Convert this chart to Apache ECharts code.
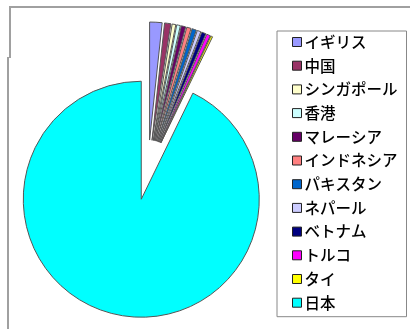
<!DOCTYPE html>
<html><head><meta charset="utf-8">
<script src="https://cdn.jsdelivr.net/npm/echarts@6/dist/echarts.min.js"></script>
<style>html,body{margin:0;padding:0;background:#fff}#c{width:410px;height:329px}</style>
</head><body><div id="c"></div>
<script>
const categories = ['イギリス','中国','シンガポール','香港','マレーシア','インドネシア','パキスタン','ネパール','ベトナム','トルコ','タイ','日本'];
const values = [1.7, 0.86, 0.5, 0.5, 0.6, 0.6, 0.6, 0.5, 0.6, 0.5, 0.25, 92.8];
const colors = ['#9999FF','#993366','#FFFFCC','#CCFFFF','#660066','#FF8080','#0066CC','#CCCCFF','#000080','#FF00FF','#FFFF00','#00FFFF'];

const chart = echarts.init(document.getElementById('c'), null, {renderer:'canvas'});
const data = categories.map((n,i)=>({name:n, value:values[i], selected:true,
  itemStyle:{color:colors[i]}, select:{itemStyle:{color:colors[i], borderColor:'#555', borderWidth:1}}}));
chart.setOption({
  animation:false,
  color: colors,
  graphic:[
    {type:'polyline', shape:{points:[[10,58],[10,7],[410,7]]}, style:{stroke:'#a0a0a0', lineWidth:2, fill:null}},
    {type:'line', shape:{x1:8,y1:57,x2:8,y2:329}, style:{stroke:'#a0a0a0', lineWidth:2}}
  ],
  legend:{
    orient:'vertical', left:277, top:31,
    padding:[3,9,6,15],
    borderColor:'#888', borderWidth:1,
    itemWidth:9, itemHeight:9, itemGap:7.7,
    icon:'rect',
    selectedMode:false,
    itemStyle:{borderColor:'#222', borderWidth:1},
    textStyle:{fontFamily:'"Noto Sans CJK JP"', fontSize:15.5, fontWeight:500, color:'#000', lineHeight:16, padding:[0,0,0,-2]},
    data: categories
  },
  series:[{
    type:'pie',
    center:[148,170],
    radius:118,
    startAngle:90,
    clockwise:true,
    selectedMode:'multiple',
    selectedOffset:30,
    avoidLabelOverlap:false,
    label:{show:false}, labelLine:{show:false},
    emphasis:{disabled:true},
    itemStyle:{borderColor:'#555', borderWidth:1},
    data:data
  }]
});
</script></body></html>
